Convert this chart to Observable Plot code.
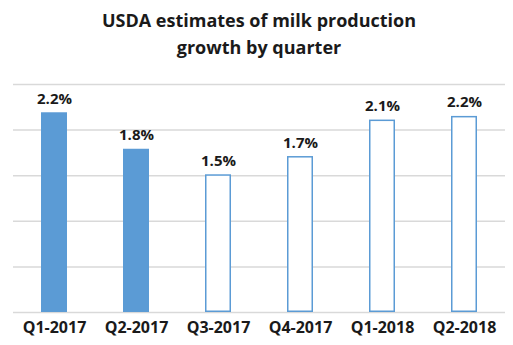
<!DOCTYPE html>
<html>
<head>
<meta charset="utf-8">
<script src="https://cdn.jsdelivr.net/npm/d3@7"></script>
<script src="https://cdn.jsdelivr.net/npm/@observablehq/plot@0.6"></script>
<style>
  html, body { margin: 0; padding: 0; background: #fff; }
  #wrap { position: relative; width: 513px; height: 345px; overflow: hidden; }
  #title { position: absolute; left: 0; top: 7px; width: 518px; text-align: center;
    font-family: "Open Sans", sans-serif; font-weight: 700; font-size: 18px; line-height: 27px; color: #1a1a1a; }
  #chart { position: absolute; left: 0; top: 0; }
</style>
</head>
<body>
<div id="wrap">
  <div id="chart"></div>
  <div id="title">USDA estimates of milk production<br>growth by quarter</div>
</div>
<script>
const quarters = ["Q1-2017", "Q2-2017", "Q3-2017", "Q4-2017", "Q1-2018", "Q2-2018"];
const growth = [2.19, 1.79, 1.51, 1.71, 2.11, 2.15];
const labels = ["2.2%", "1.8%", "1.5%", "1.7%", "2.1%", "2.2%"];
const status = ["actual", "actual", "estimate", "estimate", "estimate", "estimate"];
const gridTicks = [0, 0.5, 1, 1.5, 2, 2.5];

const data = quarters.map((q, i) => ({quarter: q, value: growth[i], label: labels[i], status: status[i]}));
const blue = "#5b9bd5";

const chart = Plot.plot({
  width: 513,
  height: 345,
  marginLeft: 13,
  marginRight: 8,
  marginTop: 84,
  marginBottom: 33,
  style: {fontFamily: "'Open Sans', sans-serif", background: "#fff"},
  x: {domain: quarters, paddingInner: 0.68, paddingOuter: 0.34, label: null},
  y: {domain: [0, 2.5], axis: null},
  marks: [
    Plot.ruleY(gridTicks, {stroke: "#d9d9d9", strokeWidth: 1.5}),
    Plot.barY(data, {
      x: "quarter", y: "value",
      fill: d => d.status === "actual" ? blue : "#fff",
      stroke: blue, strokeWidth: 1.5, inset: 0.75
    }),
    Plot.text(data, {
      x: "quarter", y: "value", text: "label",
      dy: -9, lineAnchor: "bottom",
      fontWeight: "bold", fontSize: 15, fill: "#1a1a1a"
    }),
    Plot.axisX({tickSize: 0, tickPadding: 9, fontSize: 16, fontWeight: "bold", fill: "#1a1a1a", label: null})
  ]
});
document.getElementById("chart").appendChild(chart);
</script>
</body>
</html>
